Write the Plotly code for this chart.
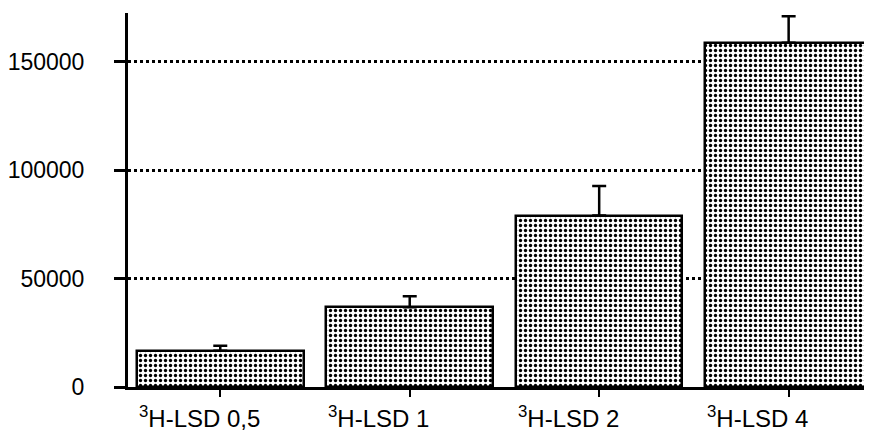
import plotly.graph_objects as go

categories = ["<sup>3</sup>H-LSD 0,5", "<sup>3</sup>H-LSD 1", "<sup>3</sup>H-LSD 2", "<sup>3</sup>H-LSD 4"]
values = [16700, 36800, 79100, 158800]
errors = [2300, 5100, 13600, 12200]
y_ticks = [0, 50000, 100000, 150000]

x_idx = list(range(len(categories)))
bar_w = 0.879

fig = go.Figure()
fig.add_trace(go.Bar(
    x=x_idx, y=values, width=bar_w,
    marker=dict(color="white",
                line=dict(color="black", width=2.5),
                pattern=dict(shape=".", fgcolor="black", bgcolor="white", size=5, solidity=0.34, fgopacity=1)),
    error_y=dict(type="data", symmetric=False, array=errors, arrayminus=[0] * len(errors),
                 color="black", thickness=2.5, width=7),
    showlegend=False,
))

for i, c in enumerate(categories):
    fig.add_annotation(x=i - bar_w / 2, y=0, xref="x", yref="paper", text=c,
                       xanchor="left", yanchor="top", yshift=-13, showarrow=False,
                       font=dict(size=24, color="black", family="Liberation Sans, Arial"))

fig.update_layout(
    width=864, height=424,
    margin=dict(l=120, r=0, t=5, b=45),
    paper_bgcolor="white", plot_bgcolor="white",
    font=dict(family="Liberation Sans, Arial", size=23, color="black"),
    bargap=0,
)
fig.update_xaxes(range=[-0.487, 3.44], tickvals=x_idx, showticklabels=False,
                 ticks="outside", ticklen=7, tickwidth=2, tickcolor="black",
                 showline=True, linecolor="black", linewidth=3, showgrid=False, zeroline=False)
fig.update_yaxes(range=[0, 172500], tickvals=y_ticks, ticktext=[str(v) for v in y_ticks],
                 ticks="outside", ticklen=11, tickwidth=3, tickcolor="black",
                 ticklabelstandoff=25,
                 showline=True, linecolor="black", linewidth=3,
                 showgrid=True, gridcolor="black", gridwidth=3, griddash="dot", zeroline=False,
                 tickfont=dict(size=23, color="black"))

fig.write_html("out.html")
